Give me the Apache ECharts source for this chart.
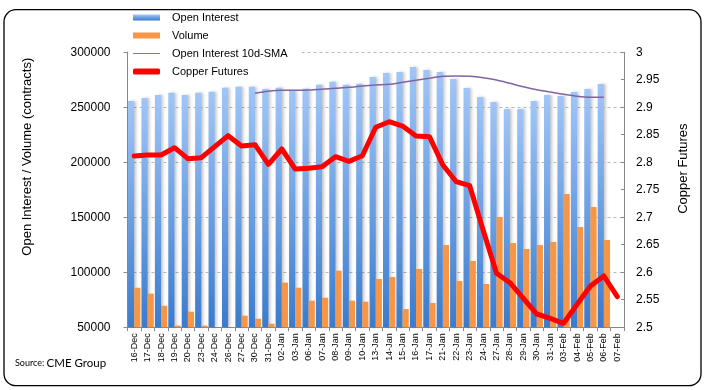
<!DOCTYPE html>
<html>
<head>
<meta charset="utf-8">
<script src="https://cdn.jsdelivr.net/npm/echarts@6/dist/echarts.min.js"></script>
<style>
html,body{margin:0;padding:0;background:#fff;}
#chart{width:708px;height:390px;}
</style>
</head>
<body>
<div id="chart"></div>
<script>
const categories = ['16-Dec','17-Dec','18-Dec','19-Dec','20-Dec','23-Dec','24-Dec','26-Dec','27-Dec','30-Dec','31-Dec',
  '02-Jan','03-Jan','06-Jan','07-Jan','08-Jan','09-Jan','10-Jan','13-Jan','14-Jan','15-Jan','16-Jan','17-Jan',
  '21-Jan','22-Jan','23-Jan','24-Jan','27-Jan','28-Jan','29-Jan','30-Jan','31-Jan',
  '03-Feb','04-Feb','05-Feb','06-Feb','07-Feb'];

const openInterest = [255600,258400,261100,263200,261100,263200,264100,267700,268600,268600,266500,
  267700,265000,266800,270500,273200,270500,271400,277500,281100,282000,286500,283800,
  282000,275600,267500,259300,254700,248400,248400,255600,261100,
  260200,263800,266500,271100,null];

const volume = [85900,80500,69500,51500,64100,51500,45000,45000,60500,57700,53200,
  90500,85900,74100,76800,101400,74100,73200,93800,95600,66500,102900,72000,
  124700,92000,110200,89300,150200,126500,121100,124700,127500,
  171100,141100,159300,129300,null];

const oiSma10d = [null,null,null,null,null,null,null,null,null,262600,264500,
  265400,265400,265600,266300,267200,268100,269300,270200,270800,272600,274500,276300,
  278100,278400,278100,276800,274700,271700,268600,265900,263800,
  261700,259900,259000,259000,null];

const copperFutures = [2.8113,2.8131,2.8131,2.8264,2.8064,2.8082,2.8282,2.8482,2.8295,2.8318,2.7962,
  2.824,2.7876,2.7889,2.7918,2.81,2.8016,2.8118,2.8635,2.8736,2.8658,2.8476,2.8464,
  2.7949,2.7645,2.7573,2.6767,2.598,2.5809,2.5525,2.524,2.5162,
  2.5071,2.5416,2.5749,2.5931,2.5555];

const leftAxisRange = [50000, 300000, 50000];
const rightAxisRange = [2.5, 3, 0.05];

const FONT = 'Liberation Sans, Arial, sans-serif';
const chart = echarts.init(document.getElementById('chart'), null, {renderer: 'canvas'});

const option = {
  backgroundColor: '#fff',
  animation: false,
  textStyle: {fontFamily: FONT, color: '#000'},
  grid: {left: 127.5, right: 84, top: 52.2, bottom: 62.8, containLabel: false},
  legend: {
    orient: 'vertical',
    left: 128,
    top: 7,
    padding: [5, 14, 4, 5],
    backgroundColor: '#fff',
    itemWidth: 27,
    itemHeight: 6,
    itemGap: 7,
    textStyle: {fontSize: 11, color: '#000', fontFamily: FONT, padding: [0, 0, 0, 7]},
    data: [
      {name: 'Open Interest', icon: 'rect'},
      {name: 'Volume', icon: 'rect'},
      {name: 'Open Interest 10d-SMA', icon: 'path://M0,0H30V1H0Z'},
      {name: 'Copper Futures', icon: 'roundRect'}
    ]
  },
  xAxis: {
    type: 'category',
    data: categories,
    boundaryGap: true,
    axisLine: {lineStyle: {color: '#888', width: 1}},
    axisTick: {show: true, interval: 0, length: 4, lineStyle: {color: '#888'}},
    axisLabel: {interval: 0, rotate: 90, fontSize: 9, color: '#000', margin: 6, fontFamily: FONT},
    splitLine: {show: false}
  },
  yAxis: [
    {
      type: 'value',
      position: 'left',
      min: leftAxisRange[0], max: leftAxisRange[1], interval: leftAxisRange[2],
      startValue: leftAxisRange[0],
      name: 'Open Interest / Volume (contracts)',
      nameLocation: 'middle',
      nameRotate: 90,
      nameGap: 94,
      nameTextStyle: {fontSize: 13, color: '#000', fontFamily: FONT, padding: [0, 0, 0, 66]},
      axisLine: {show: true, lineStyle: {color: '#888', width: 1}},
      axisTick: {show: true, length: 4, lineStyle: {color: '#888'}},
      axisLabel: {fontSize: 12, color: '#000', margin: 17, fontFamily: FONT,
        formatter: function (v) { return String(v); }},
      splitLine: {show: true, lineStyle: {color: '#b8b8b8', type: [3, 3], width: 1}}
    },
    {
      type: 'value',
      position: 'right',
      min: rightAxisRange[0], max: rightAxisRange[1], interval: rightAxisRange[2],
      name: 'Copper Futures',
      nameLocation: 'middle',
      nameRotate: 90,
      nameGap: 53,
      nameTextStyle: {fontSize: 13, color: '#000', fontFamily: FONT, padding: [0, 0, 0, 42]},
      axisLine: {show: true, lineStyle: {color: '#888', width: 1}},
      axisTick: {show: true, inside: true, length: 3, lineStyle: {color: '#888'}},
      axisLabel: {fontSize: 12, color: '#000', margin: 12, fontFamily: FONT,
        formatter: function (v) { return String(Math.round(v * 100) / 100); }},
      splitLine: {show: false}
    }
  ],
  series: [
    {
      name: 'Open Interest',
      type: 'bar',
      yAxisIndex: 0,
      data: openInterest,
      barGap: '0%',
      barCategoryGap: '8%',
      clip: true,
      itemStyle: {
        color: {type: 'linear', x: 0, y: 0, x2: 0, y2: 1,
          colorStops: [{offset: 0, color: '#a0c6f8'}, {offset: 1, color: '#3a7bcd'}]},
        shadowColor: 'rgba(0,0,0,0.22)', shadowBlur: 3, shadowOffsetX: 2, shadowOffsetY: 0
      },
      z: 2
    },
    {
      name: 'Volume',
      type: 'bar',
      yAxisIndex: 0,
      data: volume,
      barGap: '0%',
      barCategoryGap: '8%',
      clip: true,
      itemStyle: {color: '#f79646'},
      z: 2
    },
    {
      name: 'Open Interest 10d-SMA',
      type: 'line',
      yAxisIndex: 0,
      data: oiSma10d,
      smooth: 0.3,
      symbol: 'none',
      lineStyle: {color: '#8064a2', width: 1.5},
      itemStyle: {color: '#8064a2'},
      z: 3
    },
    {
      name: 'Copper Futures',
      type: 'line',
      yAxisIndex: 1,
      data: copperFutures,
      symbol: 'none',
      lineStyle: {color: '#ff0000', width: 5, join: 'round', cap: 'round'},
      itemStyle: {color: '#ff0000'},
      z: 4
    }
  ],
  graphic: [
    {
      type: 'rect',
      z: 100,
      silent: true,
      shape: {x: 4, y: 9.7, width: 697, height: 376, r: 12},
      style: {fill: 'none', stroke: '#000', lineWidth: 1.3}
    },
    {
      type: 'text',
      left: 15,
      top: 357,
      z: 100,
      style: {
        text: '{a|Source: }{b|CME Group}',
        rich: {
          a: {fontSize: 9, fontFamily: 'Lato, Open Sans, sans-serif', fill: '#000'},
          b: {fontSize: 11.5, fontFamily: 'Lato, Open Sans, sans-serif', fill: '#000'}
        }
      }
    }
  ]
};

chart.setOption(option);
</script>
</body>
</html>
